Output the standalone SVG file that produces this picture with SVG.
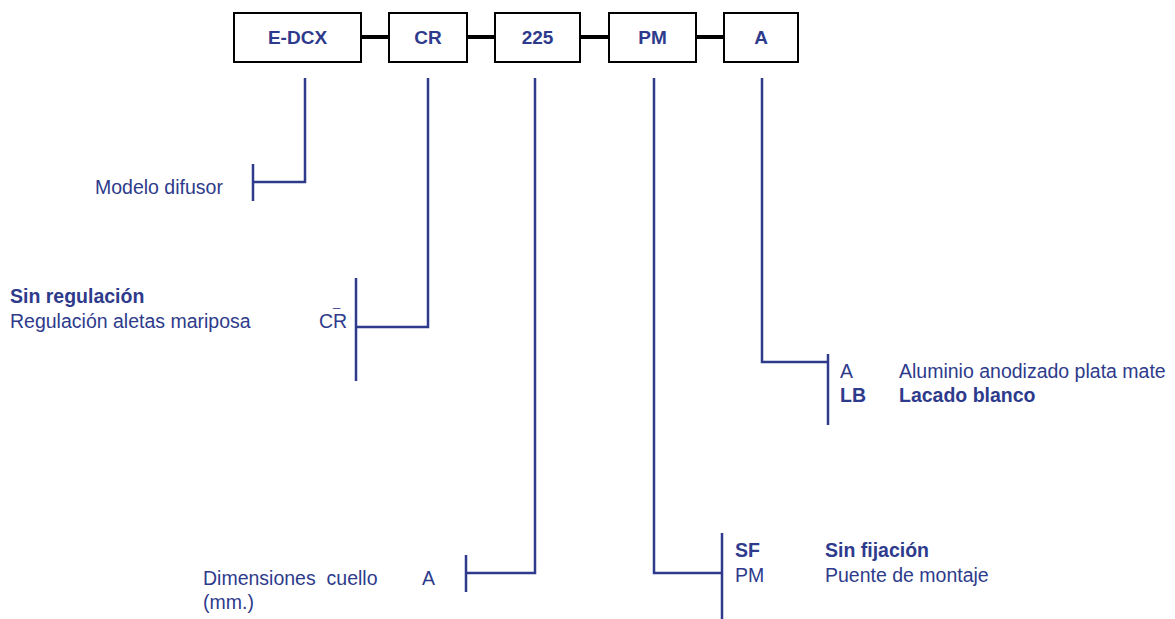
<svg xmlns="http://www.w3.org/2000/svg" width="1175" height="619" viewBox="0 0 1175 619">
<style>
.box{fill:#fff;stroke:#000;stroke-width:2}
.lbl{font-family:"Liberation Sans",Arial,sans-serif;font-size:19px;font-weight:bold;fill:#2E3B8C;text-anchor:middle}
.t{font-family:"Liberation Sans",Arial,sans-serif;font-size:19.5px;fill:#2E3B8C;white-space:pre}
.b{font-weight:bold}
.ln{fill:none;stroke:#2E3B8C;stroke-width:2.5}
.lk{stroke:#000;stroke-width:4}
</style>
<rect width="1175" height="619" fill="#fff"/>
<g id="links">
<line class="lk" x1="361" y1="37" x2="389" y2="37"/>
<line class="lk" x1="467" y1="37" x2="495" y2="37"/>
<line class="lk" x1="580" y1="37" x2="609" y2="37"/>
<line class="lk" x1="696" y1="37" x2="724" y2="37"/>
</g>
<g id="node-edcx"><rect class="box" x="234" y="13" width="127" height="49"/><text class="lbl" x="297.5" y="44">E-DCX</text></g>
<g id="node-cr"><rect class="box" x="389" y="13" width="78" height="49"/><text class="lbl" x="428" y="44">CR</text></g>
<g id="node-225"><rect class="box" x="495" y="13" width="85" height="49"/><text class="lbl" x="537.5" y="44">225</text></g>
<g id="node-pm"><rect class="box" x="609" y="13" width="87" height="49"/><text class="lbl" x="652.5" y="44">PM</text></g>
<g id="node-a"><rect class="box" x="724" y="13" width="74" height="49"/><text class="lbl" x="761" y="44">A</text></g>
<g id="connectors">
<path class="ln" d="M305,78 V182 H253 M253,164 V201"/>
<path class="ln" d="M428,78 V327 H356 M356,278 V381"/>
<path class="ln" d="M535,78 V573 H466 M466,555 V592"/>
<path class="ln" d="M654,78 V573 H722 M722,533 V619"/>
<path class="ln" d="M762,78 V362 H828 M828,354 V425"/>
</g>
<g id="label-modelo"><text class="t" x="95" y="194">Modelo difusor</text></g>
<g id="label-cr">
<text class="t b" x="10" y="303">Sin regulación</text>
<text class="t" x="10" y="328">Regulación aletas mariposa</text>
<text class="t" x="333" y="306" style="font-size:13px">_</text>
<text class="t" x="319" y="328">CR</text>
</g>
<g id="label-225">
<text class="t" x="203" y="585">Dimensiones  cuello</text>
<text class="t" x="203" y="609">(mm.)</text>
<text class="t" x="422" y="585">A</text>
</g>
<g id="label-pm">
<text class="t b" x="735" y="557">SF</text>
<text class="t b" x="825" y="557">Sin fijación</text>
<text class="t" x="735" y="582">PM</text>
<text class="t" x="825" y="582">Puente de montaje</text>
</g>
<g id="label-a">
<text class="t" x="840" y="378">A</text>
<text class="t" x="899" y="378">Aluminio anodizado plata mate</text>
<text class="t b" x="840" y="402">LB</text>
<text class="t b" x="899" y="402">Lacado blanco</text>
</g>
</svg>
